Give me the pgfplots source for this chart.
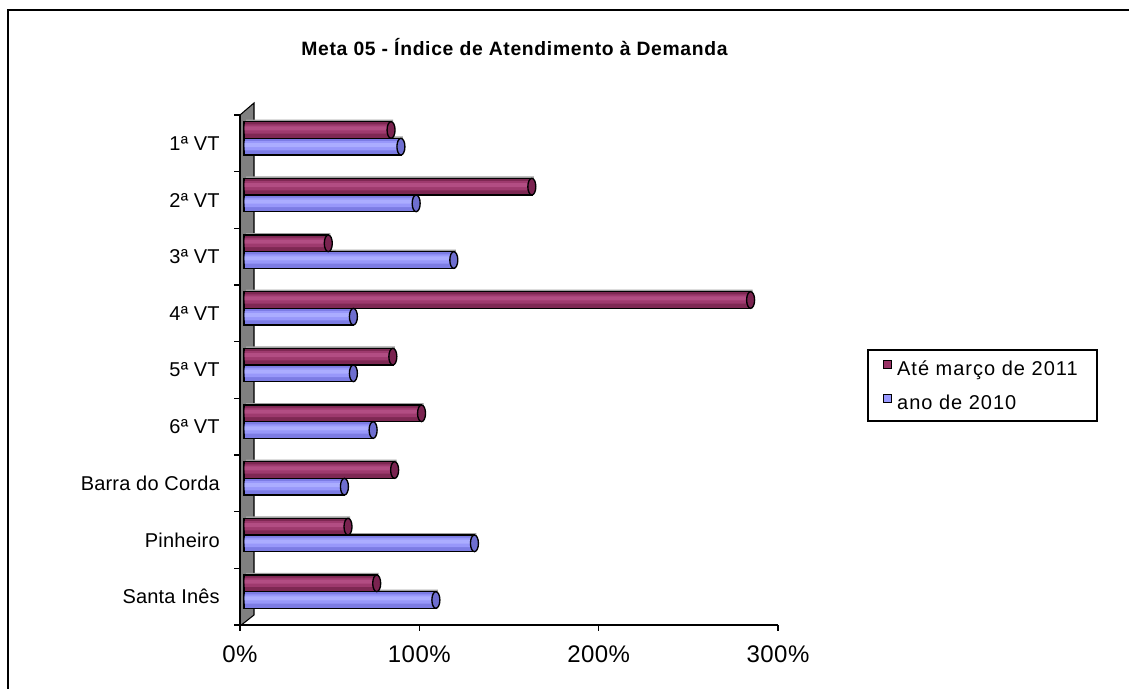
\documentclass[border=0pt]{standalone}
\usepackage{fontspec}
\setmainfont{Liberation Sans}
\newfontfamily\titlefont[LetterSpace=3.5]{Liberation Sans}
\newfontfamily\tickfont[LetterSpace=2]{Liberation Sans}
\newfontfamily\catfont[LetterSpace=1]{Liberation Sans}
\newfontfamily\legfont[LetterSpace=5]{Liberation Sans}
\usepackage{pgfplots}
\pgfplotsset{compat=1.18}

\definecolor{redBase}{HTML}{7E2853}
\definecolor{redBand}{HTML}{9E3A6E}
\definecolor{redHigh}{HTML}{B24D83}
\definecolor{redCap}{HTML}{7A2350}
\definecolor{redKey}{HTML}{993366}
\definecolor{bluBase}{HTML}{7C7CE4}
\definecolor{bluBand}{HTML}{9898FA}
\definecolor{bluHigh}{HTML}{ABADFF}
\definecolor{bluCap}{HTML}{6E6ED0}
\definecolor{bluKey}{HTML}{9999FF}
\definecolor{wallGray}{HTML}{808080}
\definecolor{shadowGray}{HTML}{A0A0A0}

% end face of a horizontal cylinder
\pgfdeclareplotmark{cylcap}{%
  \pgfpathellipse{\pgfpointorigin}{\pgfpoint{3pt}{0pt}}{\pgfpoint{0pt}{6.25pt}}%
  \pgfusepathqfillstroke}

% Meta 05 -- index per court, two periods (percent)
\pgfplotstableread{
pos periodo2011 ano2010
8   82    87.5
7   160.5 96
6   47    117
5   282.5 61
4   83    61
3   99    72
2   84    56
1   58    128.5
0   74    107
}\metadata

\begin{document}
\begin{tikzpicture}
\path[use as bounding box, fill=white] (0,0) rectangle (846.75pt,516.75pt);
% outer frame
\draw[line width=1pt] (6pt,0pt) -- (6pt,509.25pt) -- (846.75pt,509.25pt);
% back wall
\draw[fill=wallGray, draw=black, line width=0.8pt]
  (180pt,430.5pt) -- (190.5pt,439.5pt) -- (190.5pt,55.5pt) -- (181pt,48pt) -- (180pt,48pt) -- cycle;
% title
\node[font=\titlefont\bfseries\fontsize{14.5}{16}\selectfont] at (385.9pt,481.5pt)
  {Meta 05 - Índice de Atendimento à Demanda};

\begin{axis}[
  at={(180pt,48pt)}, anchor=south west,
  width=403.5pt, height=382.5pt, scale only axis,
  xmin=0, xmax=300, ymin=-0.5, ymax=8.5,
  axis lines*=left,
  axis line style={-, line width=1.1pt},
  clip=false,
  tick align=outside,
  major tick length=4.5pt,
  tick style={black, line width=0.9pt},
  xtick={0,100,200,300},
  xticklabels={0\%,100\%,200\%,300\%},
  xticklabel style={font=\tickfont\fontsize{18}{20}\selectfont, anchor=north, inner sep=0pt, yshift=-11pt},
  ytick={-0.5,0.5,...,8.5},
  yticklabels={},
  extra y ticks={0,1,...,8},
  extra y tick labels={Santa Inês,Pinheiro,Barra do Corda,6ª VT,5ª VT,4ª VT,3ª VT,2ª VT,1ª VT},
  extra y tick style={major tick length=0pt,
    yticklabel style={font=\catfont\fontsize{15}{17}\selectfont, anchor=east, inner sep=0pt, xshift=-15pt}},
  bar width=12.5pt,
  legend style={at={(1.1952,0.522)}, anchor=north west, draw=none, fill=none,
    inner sep=0pt, row sep=11.5pt, font=\legfont\fontsize{15}{17}\selectfont,
    nodes={inner sep=0pt}},
  legend cell align=left,
]
% drop shadows
\addplot[xbar, bar shift=6.25pt, xshift=4.5pt, yshift=5.25pt, fill=shadowGray, draw=none, forget plot]
  table[x=periodo2011, y=pos] {\metadata};
\addplot[xbar, bar shift=-6.25pt, xshift=4.5pt, yshift=5.25pt, fill=shadowGray, draw=none, forget plot]
  table[x=ano2010, y=pos] {\metadata};
% cylinder bodies
\addplot[xbar, bar shift=6.25pt, xshift=3pt, yshift=3.75pt, draw=black, line width=1.2pt, fill=redBase,
  legend image code/.code={\path[draw=none, fill=none] (0pt,-4pt) rectangle (10pt,4pt);
    \path[fill=redKey, draw=black, line width=0.8pt] (0pt,-2.75pt) rectangle (5.5pt,2.75pt);}]
  table[x=periodo2011, y=pos] {\metadata};
\addlegendentry{Até março de 2011}
\addplot[xbar, bar shift=-6.25pt, xshift=3pt, yshift=3.75pt, draw=black, line width=1.2pt, fill=bluBase,
  legend image code/.code={\path[draw=none, fill=none] (0pt,-4pt) rectangle (10pt,4pt);
    \path[fill=bluKey, draw=black, line width=0.8pt] (0pt,-2.75pt) rectangle (5.5pt,2.75pt);}]
  table[x=ano2010, y=pos] {\metadata};
\addlegendentry{ano de 2010}
% cylinder highlights
\addplot[xbar, bar width=7pt, bar shift=7pt, xshift=3.4pt, yshift=3.75pt, draw=none, fill=redBand, forget plot]
  table[x=periodo2011, y=pos] {\metadata};
\addplot[xbar, bar width=3pt, bar shift=7.5pt, xshift=3.4pt, yshift=3.75pt, draw=none, fill=redHigh, forget plot]
  table[x=periodo2011, y=pos] {\metadata};
\addplot[xbar, bar width=7pt, bar shift=-5.5pt, xshift=3.4pt, yshift=3.75pt, draw=none, fill=bluBand, forget plot]
  table[x=ano2010, y=pos] {\metadata};
\addplot[xbar, bar width=3pt, bar shift=-5pt, xshift=3.4pt, yshift=3.75pt, draw=none, fill=bluHigh, forget plot]
  table[x=ano2010, y=pos] {\metadata};
% end faces
\addplot[only marks, mark=cylcap, xshift=3pt, yshift=10pt, mark options={fill=redCap, draw=black, line width=1pt}, forget plot]
  table[x=periodo2011, y=pos] {\metadata};
\addplot[only marks, mark=cylcap, xshift=3pt, yshift=-2.5pt, mark options={fill=bluCap, draw=black, line width=1pt}, forget plot]
  table[x=ano2010, y=pos] {\metadata};
\end{axis}

% legend frame
\draw[line width=1pt] (651pt,254.25pt) rectangle (822.75pt,201pt);
\end{tikzpicture}
\end{document}
